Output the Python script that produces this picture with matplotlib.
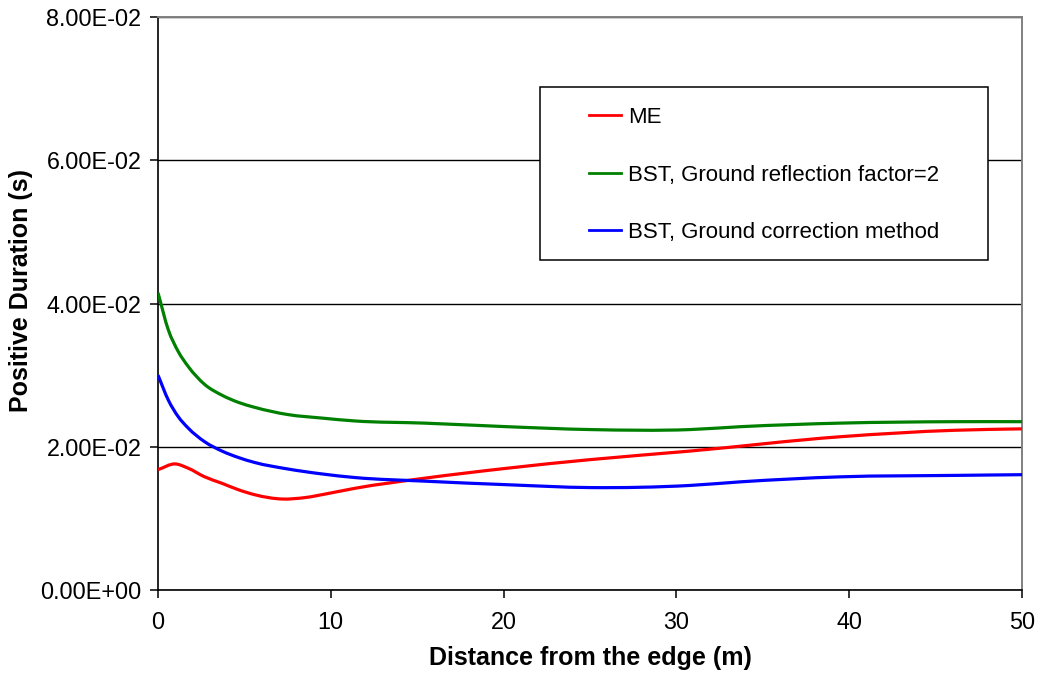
import matplotlib
matplotlib.use("Agg")
import matplotlib.pyplot as plt
from matplotlib.patches import Rectangle, PathPatch
from matplotlib.path import Path
from matplotlib.lines import Line2D
from matplotlib.ticker import FuncFormatter, MultipleLocator

plt.rcParams['font.family'] = ['Liberation Sans', 'DejaVu Sans']

# Positive duration vs. distance from the edge
x_me = [0, 1.0, 1.75, 2.7, 3.7, 4.65, 5.6, 7.2, 8.5, 9.9, 11.4, 15.4, 20.2,
        25, 30.8, 39.5, 46.1, 50]
me = [0.0168, 0.0176, 0.0170, 0.0158, 0.0149, 0.0140, 0.0133, 0.0127,
      0.0129, 0.0135, 0.0142, 0.0156, 0.0170, 0.0182, 0.0194, 0.0214,
      0.0223, 0.0225]

x_bst = [0, 0.6, 1.17, 1.75, 2.7, 3.7, 4.65, 5.6, 7.5, 9.5, 11.4, 15.4,
         20.2, 25, 30.8, 33.7, 39.5, 46.1, 50]
bst_reflection = [0.0415, 0.0363, 0.0333, 0.0312, 0.0287, 0.0272, 0.0262,
                  0.0255, 0.0245, 0.0240, 0.0236, 0.0233, 0.0228, 0.0224,
                  0.0224, 0.0228, 0.0233, 0.0235, 0.0235]
bst_correction = [0.0300, 0.0265, 0.0242, 0.0226, 0.0207, 0.0194, 0.0185,
                  0.0178, 0.0169, 0.0162, 0.0157, 0.0152, 0.0147, 0.0143,
                  0.0146, 0.0151, 0.0158, 0.0160, 0.0161]

labels = ["ME", "BST, Ground reflection factor=2", "BST, Ground correction method"]
colors = ["#FF0000", "#008000", "#0000FF"]


def smooth_path(xs, ys):
    """Smoothed line through the points: cubic Hermite segments as Bezier curves."""
    n = len(xs)
    slopes = []
    for i in range(n):
        if i == 0:
            slopes.append((ys[1] - ys[0]) / (xs[1] - xs[0]))
        elif i == n - 1:
            slopes.append((ys[-1] - ys[-2]) / (xs[-1] - xs[-2]))
        else:
            h0, h1 = xs[i] - xs[i - 1], xs[i + 1] - xs[i]
            d0 = (ys[i] - ys[i - 1]) / h0
            d1 = (ys[i + 1] - ys[i]) / h1
            slopes.append((h1 * d0 + h0 * d1) / (h0 + h1))
    verts = [(xs[0], ys[0])]
    codes = [Path.MOVETO]
    for i in range(n - 1):
        h = xs[i + 1] - xs[i]
        verts += [(xs[i] + h / 3, ys[i] + slopes[i] * h / 3),
                  (xs[i + 1] - h / 3, ys[i + 1] - slopes[i + 1] * h / 3),
                  (xs[i + 1], ys[i + 1])]
        codes += [Path.CURVE4] * 3
    return Path(verts, codes)


fig = plt.figure(figsize=(10.39, 6.73), dpi=100)
ax = fig.add_axes([158 / 1039, 83 / 673, 864 / 1039, 573 / 673])

handles = []
for xs, ys, lab, c in [(x_me, me, labels[0], colors[0]),
                       (x_bst, bst_reflection, labels[1], colors[1]),
                       (x_bst, bst_correction, labels[2], colors[2])]:
    ax.add_patch(PathPatch(smooth_path(xs, ys), fill=False, edgecolor=c,
                           lw=2.3, joinstyle='round', capstyle='butt',
                           zorder=3))
    handles.append(Line2D([], [], color=c, lw=2.0, label=lab))

ax.set_xlim(0, 50)
ax.set_ylim(0, 0.08)
ax.xaxis.set_major_locator(MultipleLocator(10))
ax.yaxis.set_major_locator(MultipleLocator(0.02))
ax.yaxis.set_major_formatter(FuncFormatter(lambda v, p: f"{v:.2E}"))

ax.grid(axis='y', color='black', lw=1.0, zorder=1)
ax.set_axisbelow(True)

for side in ['left', 'bottom']:
    ax.spines[side].set_color('black')
    ax.spines[side].set_linewidth(1.2)
for side in ['top', 'right']:
    ax.spines[side].set_color('#808080')
    ax.spines[side].set_linewidth(1.4)

ax.tick_params(axis='both', direction='out', length=6, width=1.1,
               labelsize=16.8, color='black')
ax.tick_params(axis='x', pad=9)
ax.tick_params(axis='y', pad=6)

fig.text(590 / 1039, 1 - 658 / 673, "Distance from the edge (m)", fontsize=18,
         fontweight='bold', ha='center', va='center')
fig.text(21 / 1039, 1 - 290 / 673, "Positive Duration (s)", fontsize=18,
         fontweight='bold', ha='center', va='center', rotation=90)

# Legend box
ax.add_patch(Rectangle(((540 - 158) / 864, (590 - 260) / 573), 448 / 864, 173 / 573,
                       transform=ax.transAxes, facecolor='white',
                       edgecolor='black', lw=1.1, zorder=5))
leg = ax.legend(handles=handles, loc='center left',
                bbox_to_anchor=((589 - 158) / 864, (590 - 175) / 573),
                frameon=False, fontsize=16, handlelength=1.45,
                handletextpad=0.3, labelspacing=1.64, borderpad=0,
                borderaxespad=0)
leg.set_zorder(6)

fig.savefig("out.png", dpi=100, facecolor='white')
